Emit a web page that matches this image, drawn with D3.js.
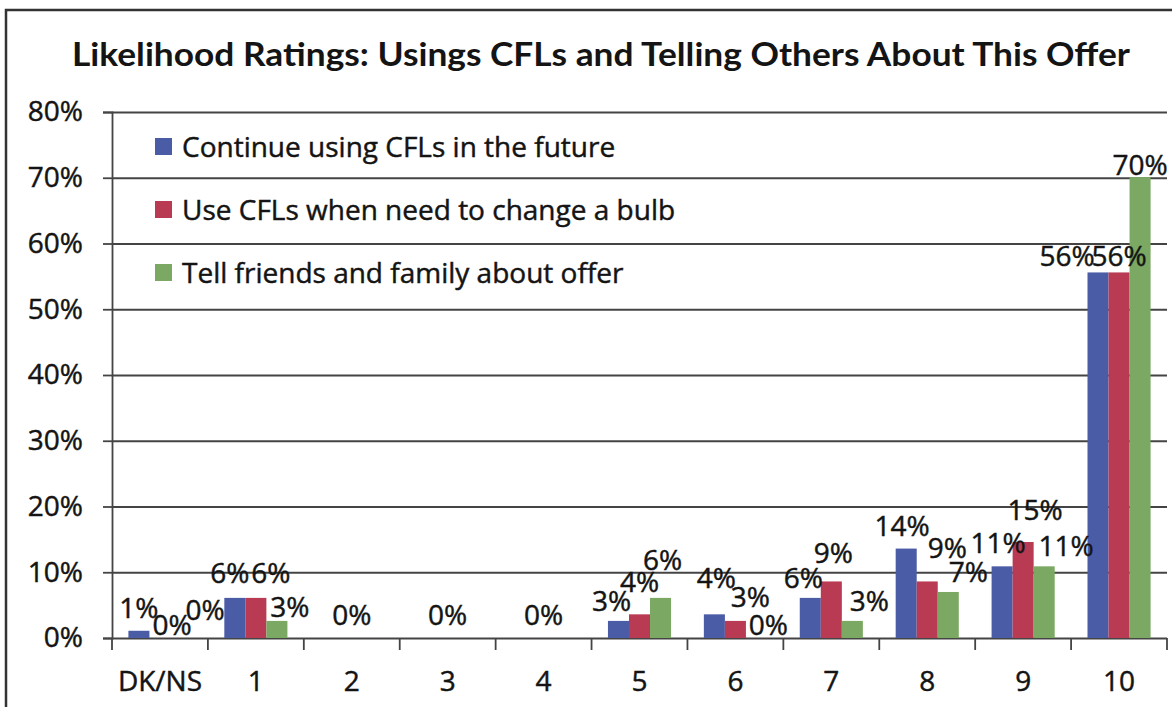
<!DOCTYPE html>
<html>
<head>
<meta charset="utf-8">
<script src="https://cdnjs.cloudflare.com/ajax/libs/d3/7.8.5/d3.min.js"></script>
<style>
body{margin:0;background:#fff;}
svg text{font-family:"Open Sans",Lato,sans-serif;fill:#141414;stroke:#141414;stroke-width:0.45px;}
svg text.title{font-family:Lato,"Open Sans",sans-serif;font-weight:bold;stroke:none;}
</style>
</head>
<body>
<svg id="chart" width="1172" height="707"></svg>
<script>
// data
var title = "Likelihood Ratings: Usings CFLs and Telling Others About This Offer";
var categories = ["DK/NS", "1", "2", "3", "4", "5", "6", "7", "8", "9", "10"];
var seriesNames = ["Continue using CFLs in the future", "Use CFLs when need to change a bulb", "Tell friends and family about offer"];
var continueUsing = [1.1, 6.1, 0, 0, 0, 2.6, 3.6, 6.1, 13.6, 10.9, 55.6];
var useWhenChange = [0, 6.1, 0, 0, 0, 3.6, 2.6, 8.6, 8.6, 14.6, 55.6];
var tellFriends = [0, 2.6, 0, 0, 0, 6.1, 0, 2.6, 7.0, 10.9, 70.1];
var yTicks = [0, 10, 20, 30, 40, 50, 60, 70, 80];

var colors = ["#4b5ca7", "#b93a53", "#7ba862"];

// the labels in the original were dragged around by hand: [dx, dy] per series/category
var labelNudge = [
  [[0,-3],[-5,-5],[0,0],[0,0],[0,0],[-7,0],[2,-16],[-7,0],[-4,-3],[-4,-3],[-31,4]],
  [[12,7],[15,-5],[0,-3],[0,-3],[0,-3],[0,-12],[15,-4],[2,-8],[20,-13],[12,-12],[0,4]],
  [[24,-8],[13,6],[0,0],[0,0],[0,0],[2,-18],[12,7],[17,0],[20,0],[22,0],[0,8]]
];

var series = [continueUsing, useWhenChange, tellFriends].map(function(vals, s){
  return {name: seriesNames[s], color: colors[s], values: vals, s: s};
});

var points = function(d){
  return d.values.map(function(v, i){ return {v: v, i: i, s: d.s}; });
};

var svg = d3.select("#chart"),
  plotL = 112, plotR = 1167, plotT = 112, plotB = 638,
  fontSize = "28px";

var x = d3.scaleBand().domain(categories).range([plotL, plotR]),
  xs = d3.scaleBand().domain([0, 1, 2]).range([0, x.bandwidth()]).paddingOuter(0.78),
  y = d3.scaleLinear().domain([0, 80]).range([plotB, plotT]);

// outer chart frame (only top and left edges are in the scan)
svg.append("path")
  .attr("d", "M6,707V10H1172")
  .attr("fill", "none")
  .attr("stroke", "#333")
  .attr("stroke-width", 2.5);

// title
svg.append("text")
  .attr("class", "title")
  .attr("x", 601).attr("y", 66)
  .attr("text-anchor", "middle")
  .attr("textLength", 1058)
  .attr("lengthAdjust", "spacingAndGlyphs")
  .style("font-size", "33px")
  .text(title);

// gridlines
svg.append("g")
  .attr("transform", "translate(" + plotL + ",0)")
  .call(d3.axisLeft(y).tickValues(yTicks).tickSize(-(plotR - plotL)).tickFormat(""))
  .call(function(g){
    g.select(".domain").remove();
    g.selectAll("line").attr("stroke", "#444").attr("stroke-width", 1.8);
  });

// y axis with stub ticks
svg.append("g")
  .attr("transform", "translate(" + plotL + ",0)")
  .call(d3.axisLeft(y).tickValues(yTicks).tickSize(9).tickPadding(20).tickFormat(function(d){ return d + "%"; }))
  .call(function(g){
    g.select(".domain").attr("stroke", "#444").attr("stroke-width", 1.8);
    g.selectAll("line").attr("stroke", "#444").attr("stroke-width", 1.8);
    g.selectAll("text").attr("fill", "#141414").style("font-size", fontSize).attr("font-family", null);
  });

// x axis labels
svg.append("g")
  .attr("transform", "translate(0," + plotB + ")")
  .call(d3.axisBottom(x).tickSize(0).tickPadding(33))
  .call(function(g){
    g.select(".domain").remove();
    g.selectAll("text").attr("fill", "#141414").style("font-size", fontSize).attr("font-family", null);
  });

// category boundary ticks
svg.append("g").selectAll("line")
  .data(categories.concat([null]))
  .join("line")
  .attr("x1", function(d){ return d === null ? plotR : x(d); })
  .attr("x2", function(d){ return d === null ? plotR : x(d); })
  .attr("y1", plotB).attr("y2", plotB + 12)
  .attr("stroke", "#444").attr("stroke-width", 1.8);

// bars
svg.append("g").selectAll("g")
  .data(series)
  .join("g")
  .attr("fill", function(d){ return d.color; })
  .selectAll("rect")
  .data(points)
  .join("rect")
  .attr("x", function(d){ return x(categories[d.i]) + xs(d.s); })
  .attr("width", xs.bandwidth())
  .attr("y", function(d){ return y(d.v); })
  .attr("height", function(d){ return plotB - y(d.v); });

// data labels, on top of every bar; when a whole category is zero only the middle one is shown
var allZero = function(i){
  return series.every(function(sr){ return sr.values[i] === 0; });
};

svg.append("g").selectAll("g")
  .data(series)
  .join("g")
  .selectAll("text")
  .data(function(d){
    return points(d).filter(function(p){ return !(allZero(p.i) && p.s !== 1); });
  })
  .join("text")
  .attr("text-anchor", "middle")
  .attr("x", function(d){ return x(categories[d.i]) + xs(d.s) + xs.bandwidth() / 2 + labelNudge[d.s][d.i][0]; })
  .attr("y", function(d){ return y(d.v) - 10 + labelNudge[d.s][d.i][1]; })
  .style("font-size", fontSize)
  .text(function(d){ return Math.round(d.v) + "%"; });

// legend
var legend = svg.append("g").selectAll("g")
  .data(series)
  .join("g")
  .attr("transform", function(d, i){ return "translate(155," + (138 + i * 63) + ")"; });

legend.append("rect")
  .attr("width", 17).attr("height", 17)
  .attr("fill", function(d){ return d.color; });

legend.append("text")
  .attr("x", 27).attr("y", 19)
  .style("font-size", fontSize)
  .text(function(d){ return d.name; });
</script>
</body>
</html>
